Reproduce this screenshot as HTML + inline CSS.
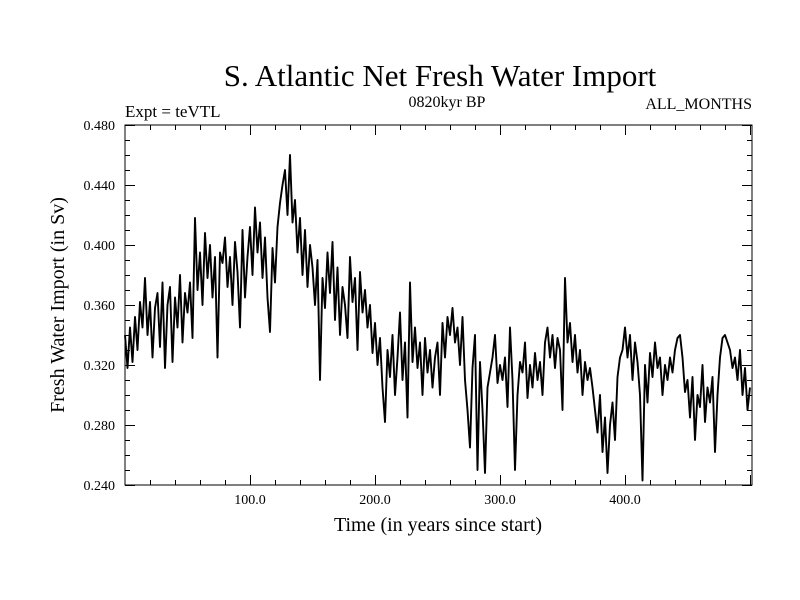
<!DOCTYPE html>
<html><head><meta charset="utf-8"><style>
html,body{margin:0;padding:0;background:#fff;}
svg{display:block;}
</style></head><body>
<svg id="chart" width="800" height="600" xmlns="http://www.w3.org/2000/svg">
<rect width="800" height="600" fill="#fff"/>
<text x="440" y="86" font-family="Liberation Serif, serif" font-size="31" text-anchor="middle">S. Atlantic Net Fresh Water Import</text>
<text x="125" y="117" font-family="Liberation Serif, serif" font-size="17">Expt = teVTL</text>
<text x="447" y="107" font-family="Liberation Serif, serif" font-size="16" text-anchor="middle">0820kyr BP</text>
<text x="752" y="109" font-family="Liberation Serif, serif" font-size="16" text-anchor="end">ALL_MONTHS</text>
<text x="438" y="531" font-family="Liberation Serif, serif" font-size="20" text-anchor="middle">Time (in years since start)</text>
<text transform="translate(64,305) rotate(-90)" font-family="Liberation Serif, serif" font-size="20" text-anchor="middle">Fresh Water Import (in Sv)</text>
<g id="axes"></g>
<polyline id="series" fill="none" stroke="#000" stroke-width="1.9" stroke-linejoin="round"/>
<rect x="125" y="125" width="627" height="360" fill="none" stroke="#000" stroke-width="1"/>
</svg>
<script>
const values = [
0.340,0.318,0.345,0.322,0.352,0.330,0.362,0.345,0.378,0.340,0.362,0.325,0.358,0.368,0.332,0.375,0.318,0.360,0.372,0.322,0.365,0.345,0.380,0.335,0.368,
0.355,0.375,0.338,0.418,0.370,0.395,0.360,0.408,0.378,0.400,0.365,0.392,0.325,0.395,0.388,0.405,0.372,0.392,0.360,0.402,0.382,0.345,0.410,0.365,0.392,
0.412,0.380,0.425,0.395,0.415,0.378,0.405,0.365,0.342,0.398,0.375,0.412,0.428,0.440,0.450,0.420,0.460,0.415,0.430,0.395,0.418,0.380,0.410,0.372,0.400,
0.385,0.360,0.390,0.310,0.378,0.358,0.395,0.368,0.402,0.350,0.385,0.340,0.372,0.360,0.338,0.392,0.362,0.378,0.330,0.382,0.355,0.370,0.345,0.360,0.328,
0.348,0.320,0.338,0.305,0.282,0.330,0.312,0.340,0.300,0.325,0.355,0.310,0.335,0.285,0.375,0.322,0.345,0.318,0.335,0.300,0.338,0.315,0.330,0.305,0.325,
0.335,0.300,0.348,0.325,0.352,0.340,0.358,0.335,0.345,0.320,0.352,0.310,0.290,0.265,0.318,0.340,0.250,0.322,0.290,0.248,0.305,0.315,0.325,0.340,0.308,
0.320,0.310,0.325,0.292,0.345,0.310,0.250,0.300,0.322,0.315,0.335,0.298,0.320,0.305,0.328,0.310,0.322,0.300,0.335,0.345,0.325,0.340,0.318,0.338,0.330,
0.290,0.378,0.335,0.348,0.322,0.340,0.315,0.330,0.300,0.322,0.310,0.318,0.305,0.290,0.275,0.300,0.262,0.285,0.248,0.280,0.295,0.270,0.312,0.325,0.330,
0.345,0.325,0.340,0.310,0.335,0.322,0.300,0.243,0.320,0.295,0.328,0.312,0.335,0.318,0.325,0.300,0.320,0.310,0.325,0.315,0.330,0.338,0.340,0.325,0.302,
0.310,0.285,0.312,0.270,0.300,0.292,0.320,0.282,0.305,0.295,0.312,0.262,0.300,0.325,0.338,0.340,0.335,0.330,0.318,0.325,0.310,0.330,0.300,0.318,0.290,
0.305];
const yearStep = 2;
const xTickValues = [100, 200, 300, 400];
const xTickLabels = ["100.0", "200.0", "300.0", "400.0"];
const yTickValues = [0.24, 0.28, 0.32, 0.36, 0.40, 0.44, 0.48];
const yTickLabels = ["0.240", "0.280", "0.320", "0.360", "0.400", "0.440", "0.480"];

const X0 = 125, X1 = 752, Y0 = 485, Y1 = 125;
const xMin = 0, xMax = 501.6, yMin = 0.24, yMax = 0.48;
const xs = v => X0 + (v - xMin) / (xMax - xMin) * (X1 - X0);
const ys = v => Y0 - (v - yMin) / (yMax - yMin) * (Y0 - Y1);

const NS = "http://www.w3.org/2000/svg";
const axes = document.getElementById("axes");
function line(x1, y1, x2, y2, name) {
  const l = document.createElementNS(NS, "line");
  l.setAttribute("x1", x1); l.setAttribute("y1", y1);
  l.setAttribute("x2", x2); l.setAttribute("y2", y2);
  l.setAttribute("stroke", "#000"); l.setAttribute("stroke-width", "1");
  
  
  axes.appendChild(l);
}
for (let k = 0; k <= 24; k++) {
  const v = yMin + k * 0.01;
  const y = Math.round(ys(v)) + 0.5;
  const len = (k % 4 === 0) ? 10 : 5;
  line(X0, y, X0 + len, y, "y-tick");
  line(X1, y, X1 - len, y, "y-tick-right");
}
for (let t = 20; t < xMax; t += 20) {
  const x = Math.round(xs(t)) + 0.5;
  const len = (t % 100 === 0) ? 10 : 5;
  line(x, Y0, x, Y0 - len, "x-tick");
  line(x, Y1, x, Y1 + len, "x-tick-top");
}
yTickValues.forEach((v, i) => {
  const t = document.createElementNS(NS, "text");
  t.setAttribute("x", 115); t.setAttribute("y", ys(v) + 5);
  t.setAttribute("text-anchor", "end");
  t.setAttribute("font-family", "Liberation Serif, serif");
  t.setAttribute("font-size", "14");
  t.textContent = yTickLabels[i];
  
  
  axes.appendChild(t);
});
xTickValues.forEach((v, i) => {
  const t = document.createElementNS(NS, "text");
  t.setAttribute("x", xs(v)); t.setAttribute("y", 504);
  t.setAttribute("text-anchor", "middle");
  t.setAttribute("font-family", "Liberation Serif, serif");
  t.setAttribute("font-size", "14");
  t.textContent = xTickLabels[i];
  
  
  axes.appendChild(t);
});
document.getElementById("series").setAttribute("points",
  values.map((v, i) => xs(i * yearStep).toFixed(1) + "," + ys(v).toFixed(1)).join(" "));
</script>
</body></html>
